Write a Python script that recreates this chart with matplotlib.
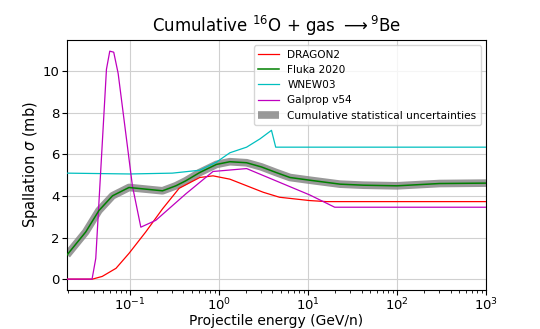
import numpy as np
import matplotlib
matplotlib.use("Agg")
import matplotlib.pyplot as plt

# Fluka 2020 (green) with gray statistical band
fluka_E = [0.0197, 0.032, 0.045, 0.064, 0.098, 0.151, 0.233, 0.329, 0.425, 0.61, 0.94,
           1.33, 2.05, 3.0, 4.4, 6.3, 10.5, 23, 42, 100, 300, 1000]
fluka_s = [1.16, 2.27, 3.3, 4.01, 4.41, 4.33, 4.25, 4.49, 4.73, 5.13, 5.52,
           5.65, 5.6, 5.4, 5.13, 4.89, 4.76, 4.57, 4.52, 4.49, 4.6, 4.62]

# DRAGON2 (red)
dragon_E = [0.0197, 0.038, 0.049, 0.070, 0.098, 0.151, 0.233, 0.358, 0.61, 0.86, 1.33,
            3.15, 4.8, 10.5, 16.2, 1000]
dragon_s = [0.0, 0.0, 0.13, 0.52, 1.24, 2.27, 3.38, 4.37, 4.89, 4.97, 4.81,
            4.18, 3.94, 3.78, 3.73, 3.73]

# WNEW03 (cyan)
wnew_E = [0.0197, 0.1, 0.3, 0.61, 0.94, 1.33, 2.05, 2.9, 3.9, 4.35, 1000]
wnew_s = [5.1, 5.06, 5.1, 5.24, 5.63, 6.08, 6.35, 6.75, 7.16, 6.35, 6.35]

# Galprop v54 (magenta)
galprop_E = [0.0197, 0.0377, 0.0415, 0.0547, 0.0596, 0.066, 0.074, 0.094, 0.107, 0.133,
             0.196, 0.425, 0.86, 2.05, 10.5, 20, 1000]
galprop_s = [0.0, 0.0, 1.0, 10.1, 10.97, 10.92, 9.9, 6.4, 4.49, 2.5,
             2.83, 4.1, 5.18, 5.32, 4.05, 3.46, 3.46]

fig = plt.figure(figsize=(5.4, 3.29), dpi=100)
ax = fig.add_axes([0.124, 0.12, 0.776, 0.758])

ax.plot(fluka_E, fluka_s, color='gray', lw=5.5, alpha=0.8, solid_capstyle='butt',
        label='Cumulative statistical uncertainties', zorder=2)
ax.plot(dragon_E, dragon_s, color='red', lw=0.9, label='DRAGON2', zorder=3)
ax.plot(fluka_E, fluka_s, color='green', lw=1.1, label='Fluka 2020', zorder=4)
ax.plot(wnew_E, wnew_s, color='c', lw=0.9, label='WNEW03', zorder=3)
ax.plot(galprop_E, galprop_s, color='m', lw=0.9, label='Galprop v54', zorder=3)

ax.set_xscale('log')
ax.set_xlim(0.0197, 1000)
ax.set_ylim(-0.5, 11.5)
ax.set_yticks([0, 2, 4, 6, 8, 10])
ax.grid(True, which='major', color='#d0d0d0', lw=0.8)
ax.tick_params(labelsize=9.5, pad=2)
ax.set_xlabel('Projectile energy (GeV/n)', fontsize=10, labelpad=0)
ax.set_ylabel(r'Spallation $\sigma$ (mb)', fontsize=10.5, labelpad=2)
ax.set_title(r'Cumulative $^{16}$O + gas $\longrightarrow$$^{9}$Be', fontsize=12)

h, l = ax.get_legend_handles_labels()
order = [1, 2, 3, 4, 0]
ax.legend([h[i] for i in order], [l[i] for i in order], loc='upper right', fontsize=7.6)

fig.savefig('out.png', dpi=100)
